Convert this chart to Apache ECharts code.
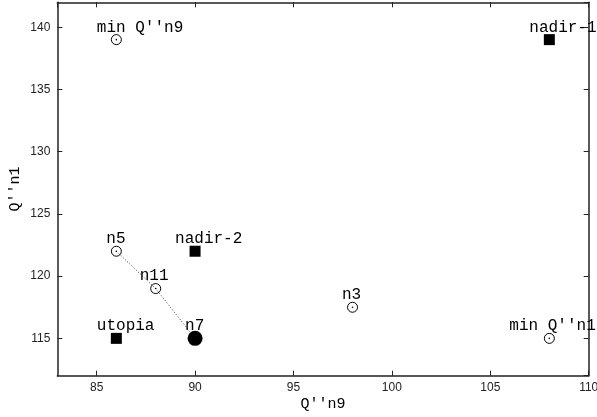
<!DOCTYPE html>
<html>
<head>
<meta charset="utf-8">
<script src="https://cdn.jsdelivr.net/npm/echarts@6/dist/echarts.min.js"></script>
<style>html,body{margin:0;padding:0;background:#fff}#c{width:597px;height:417px}</style>
</head>
<body>
<div id="c"></div>
<script>
// ---- data ----
const openNames = ["min Q''n9", "n5", "n11", "n3", "min Q''n1"];
const openX = [86, 86, 88, 98, 108];
const openY = [139, 122, 119, 117.5, 115];
const squareNames = ["nadir-1", "nadir-2", "utopia"];
const squareX = [108, 90, 86];
const squareY = [139, 122, 115];
const bestNames = ["n7"];
const bestX = [90];
const bestY = [115];
const pathX = [86, 88, 90];
const pathY = [122, 119, 115];
const xTitle = "Q''n9";
const yTitle = "Q''n1";

// ---- styling ----
const labelOffsets = {
  "min Q''n9": [-19.5, -12],
  "nadir-1": [-20, -12],
  "n5": [-10, -12.5],
  "n11": [-16, -12.5],
  "n7": [-10, -12.5],
  "n3": [-10.5, -12.5],
  "nadir-2": [-20, -12.5],
  "utopia": [-19.5, -12.5],
  "min Q''n1": [-40, -12.5]
};
const mono = "'Liberation Mono', 'DejaVu Sans Mono', monospace";
const sans = "'Liberation Sans', Arial, sans-serif";
const axisColor = '#222';

function pts(names, xs, ys) {
  return names.map((n, i) => ({
    name: n,
    value: [xs[i], ys[i]],
    label: {
      show: true,
      formatter: n,
      position: 'inside',
      align: 'left',
      verticalAlign: 'middle',
      offset: labelOffsets[n],
      fontFamily: mono,
      fontSize: 16,
      color: '#000'
    }
  }));
}
function plain(xs, ys) { return xs.map((x, i) => [x, ys[i]]); }

const xBase = {
  type: 'value', min: 83, max: 110, splitNumber: 5,
  splitLine: { show: false },
  axisLine: { show: true, onZero: false, lineStyle: { color: axisColor, width: 1.5 } },
  axisTick: { show: true, inside: true, length: 5, lineStyle: { color: axisColor, width: 1 } }
};
const yBase = {
  type: 'value', min: 112, max: 142, splitNumber: 6,
  splitLine: { show: false },
  axisLine: { show: true, onZero: false, lineStyle: { color: axisColor, width: 1.5 } },
  axisTick: { show: true, inside: true, length: 5, lineStyle: { color: axisColor, width: 1 } }
};

const chart = echarts.init(document.getElementById('c'));
chart.setOption({
  animation: false,
  backgroundColor: '#fff',
  grid: { left: 57.3, right: 8.3, top: 2.3, bottom: 41.3, containLabel: false, outerBoundsMode: 'none' },
  xAxis: [
    Object.assign({}, xBase, {
      position: 'bottom',
      name: xTitle, nameLocation: 'middle', nameGap: 21, nameMoveOverlap: false,
      nameTextStyle: { fontFamily: mono, fontSize: 15, color: '#000' },
      axisLabel: { show: true, showMinLabel: false, fontFamily: sans, fontSize: 12, color: '#222', margin: 6 }
    }),
    Object.assign({}, xBase, { position: 'top', axisLabel: { show: false } })
  ],
  yAxis: [
    Object.assign({}, yBase, {
      position: 'left',
      name: yTitle, nameLocation: 'middle', nameGap: 35, nameRotate: 90, nameMoveOverlap: false,
      nameTextStyle: { fontFamily: mono, fontSize: 15, color: '#000' },
      axisLabel: { show: true, showMinLabel: false, showMaxLabel: false, fontFamily: sans, fontSize: 12, color: '#222', margin: 7 }
    }),
    Object.assign({}, yBase, { position: 'right', axisLabel: { show: false } })
  ],
  series: [
    {
      type: 'line', data: plain(pathX, pathY), symbol: 'none',
      lineStyle: { color: '#333', width: 1, type: [1, 2] }, z: 1
    },
    {
      type: 'scatter', data: pts(openNames, openX, openY), symbol: 'circle', symbolSize: 10,
      itemStyle: { color: 'rgba(255,255,255,0)', borderColor: '#000', borderWidth: 1, opacity: 1 }, z: 3
    },
    {
      type: 'scatter', data: plain(openX, openY), symbol: 'circle', symbolSize: 1.6,
      itemStyle: { color: '#000', opacity: 1 }, z: 4
    },
    {
      type: 'scatter', data: pts(squareNames, squareX, squareY), symbol: 'rect', symbolSize: 11,
      itemStyle: { color: '#000', opacity: 1 }, z: 3
    },
    {
      type: 'scatter', data: pts(bestNames, bestX, bestY), symbol: 'circle', symbolSize: 15,
      itemStyle: { color: '#000', opacity: 1 }, z: 3
    }
  ]
});
</script>
</body>
</html>
